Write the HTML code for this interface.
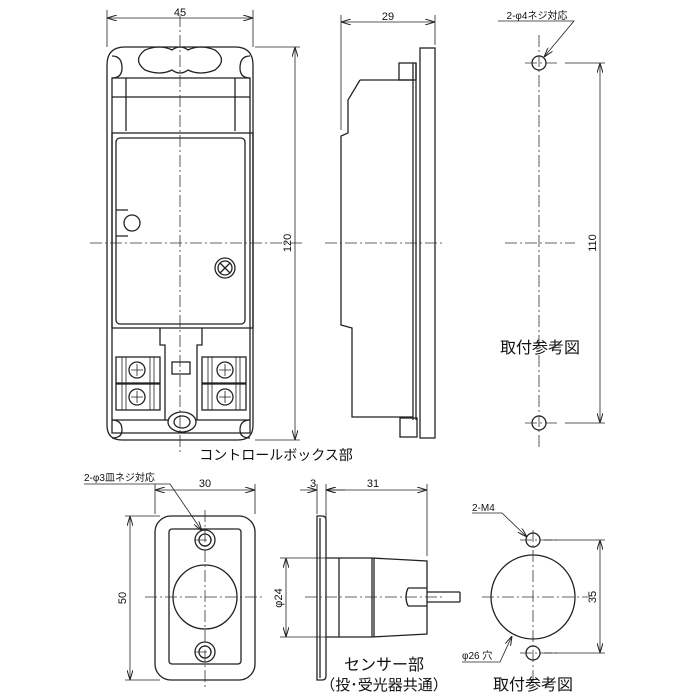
<!DOCTYPE html>
<html><head><meta charset="utf-8"><style>
html,body{margin:0;padding:0;background:#fff}
svg{display:block}
text{font-family:"Liberation Sans","Noto Sans CJK JP",sans-serif;fill:#111}
</style></head><body>
<svg width="699" height="699" viewBox="0 0 699 699" xmlns="http://www.w3.org/2000/svg">
<defs>
<marker id="a" viewBox="0 0 10 6" refX="10" refY="3" markerWidth="10" markerHeight="6" orient="auto-start-reverse" markerUnits="userSpaceOnUse"><path d="M0,0L10,3L0,6" fill="none" stroke="#222" stroke-width="1"/></marker>
</defs>
<g fill="none" stroke="#222" stroke-width="1.3">
<!-- FRONT VIEW -->
<path d="M125,47 H235 Q253,47 253,65 V425 Q253,440 238,440 H122 Q107,440 107,425 V65 Q107,47 125,47 Z"/>
<path d="M112,78 H250 V433 H112 Z"/>
<path d="M112,97 H250"/>
<path d="M126,78 V131 M235,78 V131"/>
<path d="M112,78 Q122,78 122,68 Q122,56 112,56 M250,78 Q240,78 240,68 Q240,56 250,56"/>
<path d="M145,50 Q160,44 172,50 Q180,44 188,50 Q200,44 215,50 Q228,60 215,70 Q200,76 188,70 Q180,76 172,70 Q160,76 145,70 Q132,60 145,50Z"/>
<rect x="112" y="133" width="141" height="195"/>
<rect x="116" y="138" width="129" height="186" rx="4"/>
<circle cx="132" cy="223" r="8"/><path d="M116,210 H128 M116,236 H128"/>
<circle cx="225" cy="268" r="10"/><circle cx="225" cy="268" r="7"/>
<path d="M220,263 L230,273 M230,263 L220,273"/>
<path d="M160,328 V345 H165 V420 M202,328 V345 H197 V420"/>
<rect x="116" y="357" width="44" height="26"/><rect x="116" y="384" width="44" height="26"/>
<rect x="202" y="357" width="44" height="26"/><rect x="202" y="384" width="44" height="26"/>
<path d="M122,357 V410 M126,357 V410 M150,357 V410 M154,357 V410 M208,357 V410 M212,357 V410 M236,357 V410 M240,357 V410" stroke-width="0.8"/>
<circle cx="137" cy="370" r="8"/><circle cx="137" cy="397" r="8"/>
<circle cx="225" cy="370" r="8"/><circle cx="225" cy="397" r="8"/>
<path d="M131,370 H143 M137,364 V376 M131,397 H143 M137,391 V403 M219,370 H231 M225,364 V376 M219,397 H231 M225,391 V403" stroke-width="0.8"/>
<rect x="172" y="362" width="18" height="12"/>
<path d="M112,420 Q122,420 122,430 Q122,438 112,438 M250,420 Q240,420 240,430 Q240,438 250,438"/>
<ellipse cx="182" cy="422" rx="14" ry="10"/><ellipse cx="182" cy="422" rx="8" ry="6"/>
<path d="M112,420 H168 M196,420 H250"/>
<!-- SIDE VIEW -->
<path d="M360,80 H413 M360,80 L348,100 V133 L341,136 V325 L352,328 V417 H413"/>
<path d="M413,63 V420 M416,63 V420"/>
<rect x="399" y="63" width="17" height="17"/>
<rect x="400" y="418" width="17" height="19"/>
<rect x="420" y="48" width="15" height="390"/>
<!-- RIGHT TOP holes -->
<circle cx="539" cy="63" r="7"/><circle cx="539" cy="423" r="7"/>
<!-- SENSOR FRONT -->
<rect x="155" y="516" width="100" height="164" rx="16"/>
<rect x="169" y="529" width="72" height="135" rx="3"/>
<circle cx="205" cy="540" r="10"/><circle cx="205" cy="540" r="6"/>
<circle cx="205" cy="652" r="10"/><circle cx="205" cy="652" r="6"/>
<circle cx="205" cy="597" r="32"/>
<!-- SENSOR SIDE -->
<path d="M317,516 H322 Q326,516 326,520 V676 Q326,680 322,680 H317 Z"/>
<path d="M320,518 V678"/>
<path d="M326,558 H372 L427,561 V634 L372,637 H326"/>
<path d="M339,558 V637 M372,558 V637 M374,558 V637"/>
<path d="M408,588 H427 M408,606 H427 M408,588 Q404,597 408,606"/>
<path d="M427,592 H460 M427,602 H460 M460,592 V602"/>
<!-- RIGHT BOTTOM -->
<circle cx="533" cy="597" r="42"/>
<circle cx="533" cy="540" r="7"/><circle cx="533" cy="653" r="7"/>
</g>
<!-- centre lines -->
<g stroke="#333" stroke-width="0.8" stroke-dasharray="12,3,2,3" fill="none">
<path d="M180,15 V455 M90,243 H305"/>
<path d="M325,243 H445"/>
<path d="M539,35 V450 M505,243 H575 M525,63 H560 M525,423 H560"/>
<path d="M205,510 V688 M145,597 H265 M195,540 H215 M195,652 H215"/>
<path d="M305,597 H445"/>
<path d="M533,530 V690 M482,597 H590 M520,540 H560 M520,653 H560"/>
</g>
<!-- dimensions -->
<g stroke="#222" stroke-width="0.8" fill="none">
<path d="M107,10 V47 M253,10 V47"/><path d="M107,18 H253" marker-start="url(#a)" marker-end="url(#a)"/>
<path d="M255,47 H300 M255,440 H300"/><path d="M295,47 V440" marker-start="url(#a)" marker-end="url(#a)"/>
<path d="M341,15 V130 M435,15 V45"/><path d="M341,22 H435" marker-start="url(#a)" marker-end="url(#a)"/>
<path d="M565,63 H605 M565,423 H605"/><path d="M600,63 V423" marker-start="url(#a)" marker-end="url(#a)"/>
<path d="M498,21 H574 L544,57" marker-end="url(#a)"/>
<path d="M155,484 V514 M255,484 V514"/><path d="M155,490 H255" marker-start="url(#a)" marker-end="url(#a)"/>
<path d="M125,516 H160 M125,680 H160"/><path d="M130,516 V680" marker-start="url(#a)" marker-end="url(#a)"/>
<path d="M84,484 H170 L202,531" marker-end="url(#a)"/>
<path d="M317,484 V514 M326,484 V556 M427,484 V556"/>
<path d="M300,490 H317" marker-end="url(#a)"/><path d="M345,490 H326" marker-end="url(#a)"/>
<path d="M326,490 H427" marker-start="url(#a)" marker-end="url(#a)"/>
<path d="M280,558 H326 M280,637 H326"/><path d="M286,558 V637" marker-start="url(#a)" marker-end="url(#a)"/>
<path d="M544,540 H605 M544,653 H605"/><path d="M600,540 V653" marker-start="url(#a)" marker-end="url(#a)"/>
<path d="M472,513 H502 L527,537" marker-end="url(#a)"/>
<path d="M462,662 H500 L512,636" marker-end="url(#a)"/>
</g>
<!-- text -->
<g font-size="11">
<text x="180" y="16" text-anchor="middle">45</text>
<text x="388" y="20" text-anchor="middle">29</text>
<text x="537" y="19" text-anchor="middle" font-size="10">2-φ4ネジ対応</text>
<text x="205" y="487" text-anchor="middle">30</text>
<text x="313" y="487" text-anchor="middle">3</text>
<text x="373" y="487" text-anchor="middle">31</text>
<text x="84" y="481" font-size="10">2-φ3皿ネジ対応</text>
<text x="472" y="511" font-size="10">2-M4</text>
<text x="462" y="659" font-size="10">φ26 穴</text>
<text transform="translate(291,243) rotate(-90)" text-anchor="middle">120</text>
<text transform="translate(596,243) rotate(-90)" text-anchor="middle">110</text>
<text transform="translate(126,598) rotate(-90)" text-anchor="middle">50</text>
<text transform="translate(282,598) rotate(-90)" text-anchor="middle">φ24</text>
<text transform="translate(596,597) rotate(-90)" text-anchor="middle">35</text>
</g>
<g font-size="15">
<text x="540" y="353" text-anchor="middle" font-size="16">取付参考図</text>
<text x="276" y="460" text-anchor="middle" font-size="14">コントロールボックス部</text>
<text x="384" y="670" text-anchor="middle" font-size="16">センサー部</text>
<text x="384" y="690" text-anchor="middle" font-size="15">（投･受光器共通）</text>
<text x="533" y="690" text-anchor="middle" font-size="16">取付参考図</text>
</g>
</svg>
</body></html>
